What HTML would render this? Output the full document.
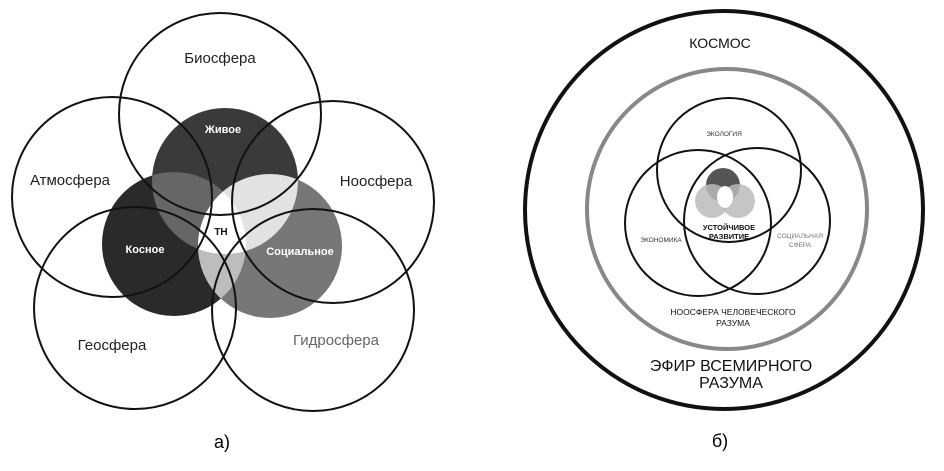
<!DOCTYPE html><html><head><meta charset="utf-8"><style>body{margin:0;background:#fff}svg{display:block}text{font-family:"Liberation Sans",sans-serif}</style></head><body>
<svg width="944" height="471" viewBox="0 0 944 471">
<defs>
<clipPath id="cZ"><circle cx="225" cy="181" r="73"/></clipPath>
<clipPath id="cK"><circle cx="174" cy="244" r="72"/></clipPath>
<clipPath id="cS"><circle cx="270" cy="246" r="72"/></clipPath>
</defs>
<circle cx="225" cy="181" r="73" fill="#3a3a3a"/>
<circle cx="174" cy="244" r="72" fill="#2a2a2a"/>
<circle cx="270" cy="246" r="72" fill="#777"/>
<circle cx="174" cy="244" r="72" fill="#666" clip-path="url(#cZ)"/>
<circle cx="270" cy="246" r="72" fill="#e2e2e2" clip-path="url(#cZ)"/>
<circle cx="270" cy="246" r="72" fill="#bdbdbd" clip-path="url(#cK)"/>
<g clip-path="url(#cZ)"><g clip-path="url(#cK)"><circle cx="270" cy="246" r="72" fill="#fff"/></g></g>
<g fill="none" stroke="#111" stroke-width="2">
<circle cx="220" cy="114" r="101"/><circle cx="112" cy="197" r="100"/><circle cx="333" cy="202" r="101"/><circle cx="135" cy="308" r="101"/><circle cx="313" cy="310" r="101"/>
</g>
<g font-size="15" text-anchor="middle" fill="#222">
<text x="220" y="63">Биосфера</text><text x="70" y="185">Атмосфера</text><text x="376" y="186">Ноосфера</text><text x="112" y="350">Геосфера</text><text x="336" y="345" fill="#666">Гидросфера</text>
</g>
<g font-size="11" font-weight="bold" text-anchor="middle" fill="#fff">
<text x="223" y="133">Живое</text><text x="145" y="253">Косное</text><text x="300" y="255">Социальное</text><text x="221" y="235" fill="#111" font-size="10">ТН</text>
</g>
<text x="222" y="448" font-size="18" text-anchor="middle" font-family="Liberation Serif">а)</text>
<circle cx="724" cy="210" r="199" fill="none" stroke="#111" stroke-width="4"/>
<circle cx="727" cy="209" r="140" fill="none" stroke="#888" stroke-width="4"/>
<circle cx="723" cy="185" r="17" fill="#555"/>
<circle cx="712" cy="201" r="17" fill="#bbb" opacity=".85"/>
<circle cx="738" cy="201" r="17" fill="#bbb" opacity=".85"/>
<ellipse cx="725" cy="197" rx="8" ry="11" fill="#fff"/>
<g fill="none" stroke="#111" stroke-width="2">
<circle cx="729" cy="170" r="72"/><circle cx="698" cy="223" r="73"/><circle cx="757" cy="221" r="73"/>
</g>
<g font-size="6.5" text-anchor="middle" fill="#333">
<text x="724" y="136">ЭКОЛОГИЯ</text><text x="661" y="242">ЭКОНОМИКА</text><text x="800" y="238" fill="#777">СОЦИАЛЬНАЯ</text><text x="800" y="247" fill="#777">СФЕРА</text>
</g>
<g font-size="7.5" font-weight="bold" text-anchor="middle" fill="#111">
<text x="729" y="230">УСТОЙЧИВОЕ</text><text x="729" y="239">РАЗВИТИЕ</text>
<text x="733" y="315" font-weight="normal" font-size="8.5">НООСФЕРА ЧЕЛОВЕЧЕСКОГО</text><text x="733" y="326" font-weight="normal" font-size="8.5">РАЗУМА</text>
</g>
<g font-size="14" text-anchor="middle" fill="#111">
<text x="720" y="48">КОСМОС</text><text x="731" y="371" font-size="16">ЭФИР ВСЕМИРНОГО</text><text x="731" y="388" font-size="16">РАЗУМА</text>
</g>
<text x="720" y="447" font-size="18" text-anchor="middle" font-family="Liberation Serif">б)</text>
</svg></body></html>
